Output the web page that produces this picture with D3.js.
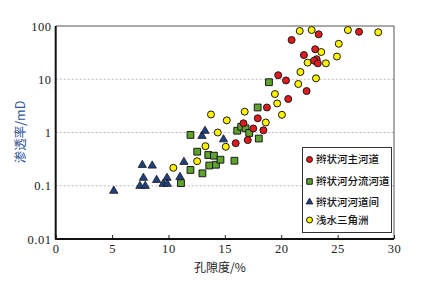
<!DOCTYPE html>
<html>
<head>
<meta charset="utf-8">
<script src="https://cdn.jsdelivr.net/npm/d3@7"></script>
<style>
  body { margin: 0; background: #fff; }
  svg { display: block; }
</style>
</head>
<body>
<div class="svg-container"></div>
<script>
// tick values and labels
var xTicks = [0, 5, 10, 15, 20, 25, 30];
var yTicks = [0.01, 0.1, 1, 10, 100];
var yTickLabels = ["0.01", "0.1", "1", "10", "100"];
var gridValues = [0.1, 1, 10];

var seriesNames = ["辫状河主河道", "辫状河分流河道", "辫状河河道间", "浅水三角洲"];

// 辫状河主河道 (red circles)
var mainPor = [15.96, 16.65, 17.03, 17.52, 17.92, 18.42, 18.73, 19.73, 20.42, 20.62, 20.92, 22.01, 22.25, 23.01, 23.14, 22.91, 23.24, 23.32, 26.9];
var mainPerm = [0.63, 1.49, 0.72, 1.19, 1.85, 1.10, 2.95, 11.9, 9.5, 4.26, 54.6, 28.5, 6.0, 36.6, 23.8, 22.3, 19.9, 69.8, 77.8];

// 辫状河分流河道 (green squares)
var branchPor = [11.11, 11.95, 11.95, 12.55, 13.01, 13.53, 14.03, 13.62, 14.21, 14.61, 15.85, 16.10, 16.45, 16.83, 17.16, 18.01, 17.91, 18.91];
var branchPerm = [0.112, 0.90, 0.198, 0.436, 0.171, 0.378, 0.367, 0.24, 0.248, 0.308, 0.295, 1.08, 1.28, 1.20, 0.98, 0.77, 2.95, 8.8];

// 辫状河河道间 (navy triangles)
var interPor = [5.15, 7.68, 8.56, 7.78, 7.47, 7.94, 8.95, 9.87, 9.53, 9.89, 11.02, 11.37, 12.97, 13.24, 14.88];
var interPerm = [0.080, 0.245, 0.238, 0.14, 0.099, 0.099, 0.128, 0.14, 0.108, 0.108, 0.146, 0.279, 0.86, 1.07, 0.74];

// 浅水三角洲 (yellow circles)
var deltaPor = [10.43, 12.54, 13.28, 13.77, 14.37, 15.08, 15.17, 16.76, 18.63, 19.44, 19.64, 20.06, 21.51, 21.70, 22.34, 23.08, 23.55, 23.96, 24.94, 25.10, 21.64, 22.70, 25.91, 28.6];
var deltaPerm = [0.217, 0.289, 0.553, 2.18, 1.0, 0.54, 1.69, 2.46, 1.54, 5.28, 3.51, 2.15, 8.15, 13.7, 20.5, 10.4, 32.5, 19.9, 26.7, 46.3, 80.6, 84.1, 84.1, 76.3];

var width = 423, height = 282;
var plot = {left: 55.7, right: 394, top: 26, bottom: 239};

var svg = d3.select(".svg-container").append("svg")
    .attr("width", width)
    .attr("height", height)
    .style("background-color", "#ffffff");

// Scales
var xScale = d3.scaleLinear().domain([0, 30]).range([plot.left, plot.right]);
var yScale = d3.scaleLog().domain([0.01, 100]).range([plot.bottom, plot.top]);

// grid lines
svg.append("g")
    .selectAll("line")
    .data(gridValues)
    .enter()
    .append("line")
        .attr("x1", plot.left)
        .attr("x2", plot.right)
        .attr("y1", function(d) { return yScale(d); })
        .attr("y2", function(d) { return yScale(d); })
        .style("stroke", "#bbbbbb")
        .style("stroke-width", 1)
        .style("stroke-dasharray", "2,2");

// frame: top and right thin
svg.append("line")
    .attr("x1", plot.left).attr("x2", plot.right)
    .attr("y1", plot.top).attr("y2", plot.top)
    .style("stroke", "#555").style("stroke-width", 1);
svg.append("line")
    .attr("x1", plot.right).attr("x2", plot.right)
    .attr("y1", plot.top).attr("y2", plot.bottom)
    .style("stroke", "#555").style("stroke-width", 1);

// Axes
var xaxis = d3.axisBottom(xScale)
    .tickValues(xTicks)
    .tickSize(-4)
    .tickSizeOuter(0)
    .tickPadding(5);

var yaxis = d3.axisLeft(yScale)
    .tickValues(yTicks)
    .tickFormat(function(d, i) { return yTickLabels[i]; })
    .tickSize(0)
    .tickPadding(4);

var gx = svg.append("g")
    .attr("transform", "translate(0," + plot.bottom + ")")
    .call(xaxis);
gx.select(".domain").remove();
gx.selectAll(".tick line").style("stroke", "#222").style("stroke-width", 1);

var gy = svg.append("g")
    .attr("transform", "translate(" + plot.left + ",0)")
    .call(yaxis);
gy.select(".domain").remove();

svg.selectAll(".tick text")
    .style("font-family", "'Liberation Serif', 'DejaVu Serif', serif")
    .style("font-size", "12.5px")
    .style("letter-spacing", "0.6px")
    .style("fill", "#1a1a1a");

// heavy left and bottom axis lines
svg.append("line")
    .attr("x1", plot.left).attr("x2", plot.left)
    .attr("y1", plot.top).attr("y2", plot.bottom + 0.5)
    .style("stroke", "#111").style("stroke-width", 2);
svg.append("line")
    .attr("x1", plot.left - 0.5).attr("x2", plot.right)
    .attr("y1", plot.bottom).attr("y2", plot.bottom)
    .style("stroke", "#111").style("stroke-width", 2);

// axis titles
svg.append("text")
    .attr("x", 220)
    .attr("y", 272)
    .attr("text-anchor", "middle")
    .style("font-family", "'Noto Sans CJK SC', sans-serif")
    .style("font-size", "12px")
    .style("fill", "#222")
    .text("孔隙度/%");

svg.append("text")
    .attr("transform", "translate(25,132) rotate(-90)")
    .attr("text-anchor", "middle")
    .style("font-family", "'Noto Sans CJK SC', sans-serif")
    .style("font-size", "12.5px")
    .style("fill", "#2f5597")
    .text("渗透率/mD");

// Data preparation
function pairs(xs, ys) {
    var out = [];
    for (let i = 0; i < xs.length; i++) {
        out.push({por: xs[i], perm: ys[i]});
    }
    return out;
}

var deltaData = pairs(deltaPor, deltaPerm);
var mainData = pairs(mainPor, mainPerm);
var branchData = pairs(branchPor, branchPerm);
var interData = pairs(interPor, interPerm);

var markerStroke = "#1a1a1a";
var triangle = d3.symbol().type(d3.symbolTriangle).size(30);
var square = d3.symbol().type(d3.symbolSquare).size(46);

// triangles
svg.append("g")
    .selectAll("path")
    .data(interData)
    .enter()
    .append("path")
        .attr("d", triangle)
        .attr("transform", function(d) { return "translate(" + xScale(d.por) + "," + yScale(d.perm) + ")"; })
        .attr("fill", "#1f3f7f")
        .style("stroke", markerStroke)
        .style("stroke-width", 0.8);

// squares
svg.append("g")
    .selectAll("path")
    .data(branchData)
    .enter()
    .append("path")
        .attr("d", square)
        .attr("transform", function(d) { return "translate(" + xScale(d.por) + "," + yScale(d.perm) + ")"; })
        .attr("fill", "#5ea32c")
        .style("stroke", markerStroke)
        .style("stroke-width", 1);

// yellow circles
svg.append("g")
    .selectAll("circle")
    .data(deltaData)
    .enter()
    .append("circle")
        .attr("cx", function(d) { return xScale(d.por); })
        .attr("cy", function(d) { return yScale(d.perm); })
        .attr("r", 3.5)
        .attr("fill", "#fff200")
        .style("stroke", markerStroke)
        .style("stroke-width", 1);

// red circles
svg.append("g")
    .selectAll("circle")
    .data(mainData)
    .enter()
    .append("circle")
        .attr("cx", function(d) { return xScale(d.por); })
        .attr("cy", function(d) { return yScale(d.perm); })
        .attr("r", 3.5)
        .attr("fill", "#e3191b")
        .style("stroke", markerStroke)
        .style("stroke-width", 1);

// Legend
var legend = svg.append("g");
legend.append("rect")
    .attr("x", 302.5).attr("y", 147.5)
    .attr("width", 89).attr("height", 85)
    .attr("fill", "#fff")
    .style("stroke", "#333")
    .style("stroke-width", 1);

var legendY = [159.5, 181.5, 202, 220];
var mx = 309.5;

legend.append("circle").attr("cx", mx).attr("cy", legendY[0]).attr("r", 3)
    .attr("fill", "#e3191b").style("stroke", markerStroke).style("stroke-width", 1);
legend.append("path").attr("d", d3.symbol().type(d3.symbolSquare).size(30))
    .attr("transform", "translate(" + mx + "," + legendY[1] + ")")
    .attr("fill", "#5ea32c").style("stroke", markerStroke).style("stroke-width", 1);
legend.append("path").attr("d", d3.symbol().type(d3.symbolTriangle).size(20))
    .attr("transform", "translate(" + mx + "," + legendY[2] + ")")
    .attr("fill", "#1f3f7f").style("stroke", markerStroke).style("stroke-width", 0.8);
legend.append("circle").attr("cx", mx).attr("cy", legendY[3]).attr("r", 3)
    .attr("fill", "#fff200").style("stroke", markerStroke).style("stroke-width", 1);

legend.selectAll("text")
    .data(seriesNames)
    .enter()
    .append("text")
        .attr("x", 316)
        .attr("y", function(d, i) { return legendY[i]; })
        .attr("dy", "0.36em")
        .style("font-family", "'Noto Sans CJK SC', sans-serif")
        .style("font-size", "10.5px")
        .style("font-weight", "500")
        .style("fill", "#111")
        .text(function(d) { return d; });
</script>
</body>
</html>
